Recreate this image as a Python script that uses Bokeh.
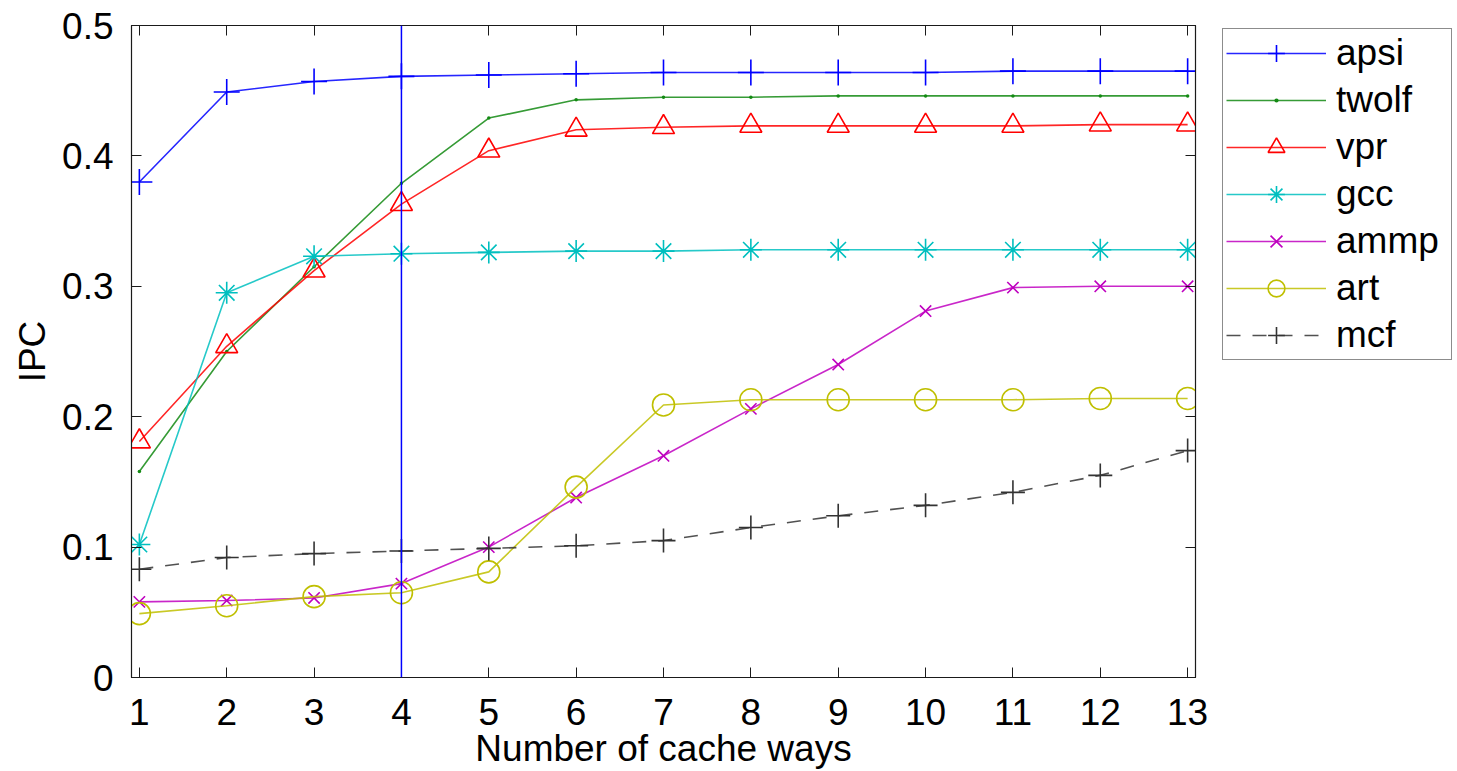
from bokeh.plotting import figure
from bokeh.models import (Legend, LegendItem, Span, FixedTicker, LinearAxis, Range1d,
                          CustomJSTickFormatter)
from bokeh.embed import file_html
from bokeh.resources import INLINE

ways = list(range(1, 14))
apsi  = [0.380, 0.449, 0.457, 0.461, 0.462, 0.463, 0.464, 0.464, 0.464, 0.464, 0.465, 0.465, 0.465]
twolf = [0.158, 0.250, 0.315, 0.379, 0.429, 0.443, 0.445, 0.445, 0.446, 0.446, 0.446, 0.446, 0.446]
vpr   = [0.181, 0.254, 0.312, 0.363, 0.404, 0.420, 0.422, 0.423, 0.423, 0.423, 0.423, 0.424, 0.424]
gcc   = [0.102, 0.295, 0.323, 0.325, 0.326, 0.327, 0.327, 0.328, 0.328, 0.328, 0.328, 0.328, 0.328]
ammp  = [0.058, 0.059, 0.061, 0.072, 0.100, 0.138, 0.170, 0.206, 0.240, 0.281, 0.299, 0.300, 0.300]
art   = [0.049, 0.055, 0.062, 0.065, 0.081, 0.146, 0.209, 0.213, 0.213, 0.213, 0.213, 0.214, 0.214]
mcf   = [0.083, 0.092, 0.095, 0.097, 0.099, 0.101, 0.105, 0.115, 0.124, 0.132, 0.142, 0.155, 0.174]
y_ticks = [0, 0.1, 0.2, 0.3, 0.4, 0.5]
selected_ways = 4

FONT = "Liberation Sans"
FS = "37px"
AX = "#1a1a1a"

p = figure(frame_width=1064, frame_height=652, output_backend="svg", toolbar_location=None,
           x_range=Range1d(0.91, 13.09), y_range=Range1d(0, 0.5),
           min_border_left=131, min_border_top=25, min_border_bottom=94, min_border_right=258)
p.xgrid.visible = False
p.ygrid.visible = False
p.outline_line_color = AX
p.outline_line_width = 1.2

for ax in (p.xaxis[0], p.yaxis[0]):
    ax.major_tick_in = 10
    ax.major_tick_out = 0
    ax.minor_tick_in = 0
    ax.minor_tick_out = 0
    ax.axis_line_color = AX
    ax.major_tick_line_color = AX
    ax.major_label_text_font = FONT
    ax.major_label_text_font_size = FS
    ax.major_label_text_color = "black"
    ax.axis_label_text_font = FONT
    ax.axis_label_text_font_size = FS
    ax.axis_label_text_font_style = "normal"
    ax.axis_label_text_color = "black"

p.xaxis[0].ticker = FixedTicker(ticks=ways)
p.yaxis[0].ticker = FixedTicker(ticks=y_ticks)
p.yaxis[0].major_label_overrides = {0: "0"}
p.xaxis[0].axis_label = "Number of cache ways"
p.yaxis[0].axis_label = "IPC"
p.xaxis[0].major_label_standoff = 21
p.yaxis[0].major_label_standoff = 18
p.xaxis[0].axis_label_standoff = 0
p.yaxis[0].axis_label_standoff = 6

blank = CustomJSTickFormatter(code="return ''")
top = LinearAxis(ticker=FixedTicker(ticks=ways), formatter=blank, major_tick_in=10, major_tick_out=0,
                 minor_tick_in=0, minor_tick_out=0, major_label_text_font_size="1px",
                 major_label_standoff=0, axis_line_color=AX, major_tick_line_color=AX)
right = LinearAxis(ticker=FixedTicker(ticks=y_ticks), formatter=blank, major_tick_in=10, major_tick_out=0,
                   minor_tick_in=0, minor_tick_out=0, major_label_text_font_size="1px",
                   major_label_standoff=0, axis_line_color=AX, major_tick_line_color=AX)
p.add_layout(top, "above")
p.add_layout(right, "right")

p.add_layout(Span(location=selected_ways, dimension="height", line_color="#0000ff", line_width=1.5))

series = [
    ("apsi", apsi, "#0000ff", "cross", 26, "solid", False),
    ("twolf", twolf, "#138a13", "dot", 14, "solid", False),
    ("vpr", vpr, "#ff0000", "triangle", 22, "solid", True),
    ("gcc", gcc, "#00bfbf", "asterisk", 22, "solid", False),
    ("ammp", ammp, "#bf00bf", "x", 16, "solid", False),
    ("art", art, "#bfbf00", "circle", 22, "solid", True),
    ("mcf", mcf, "#333333", "cross", 24, "dashed", False),
]

items = []
for name, vals, color, marker, size, dash, hollow in series:
    ln = p.line(ways, vals, line_color=color, line_width=1.6, line_alpha=0.85,
                line_dash=("14 12" if dash == "dashed" else "solid"))
    sc = p.scatter(ways, vals, marker=marker, size=size, line_color=color, line_width=1.6,
                   fill_color=(None if hollow else color))
    items.append(LegendItem(label=name, renderers=[ln, sc]))

legend = Legend(items=items, location=(-173, 317))
legend.label_text_font = FONT
legend.label_text_font_size = FS
legend.label_text_color = "black"
legend.glyph_width = 100
legend.glyph_height = 42
legend.label_height = 42
legend.label_width = 112
legend.spacing = 5
legend.label_standoff = 10
legend.padding = 3
legend.margin = 0
legend.border_line_color = AX
legend.border_line_width = 1.2
legend.background_fill_alpha = 1
p.add_layout(legend, "right")

open("out.html", "w").write(file_html(p, INLINE))
